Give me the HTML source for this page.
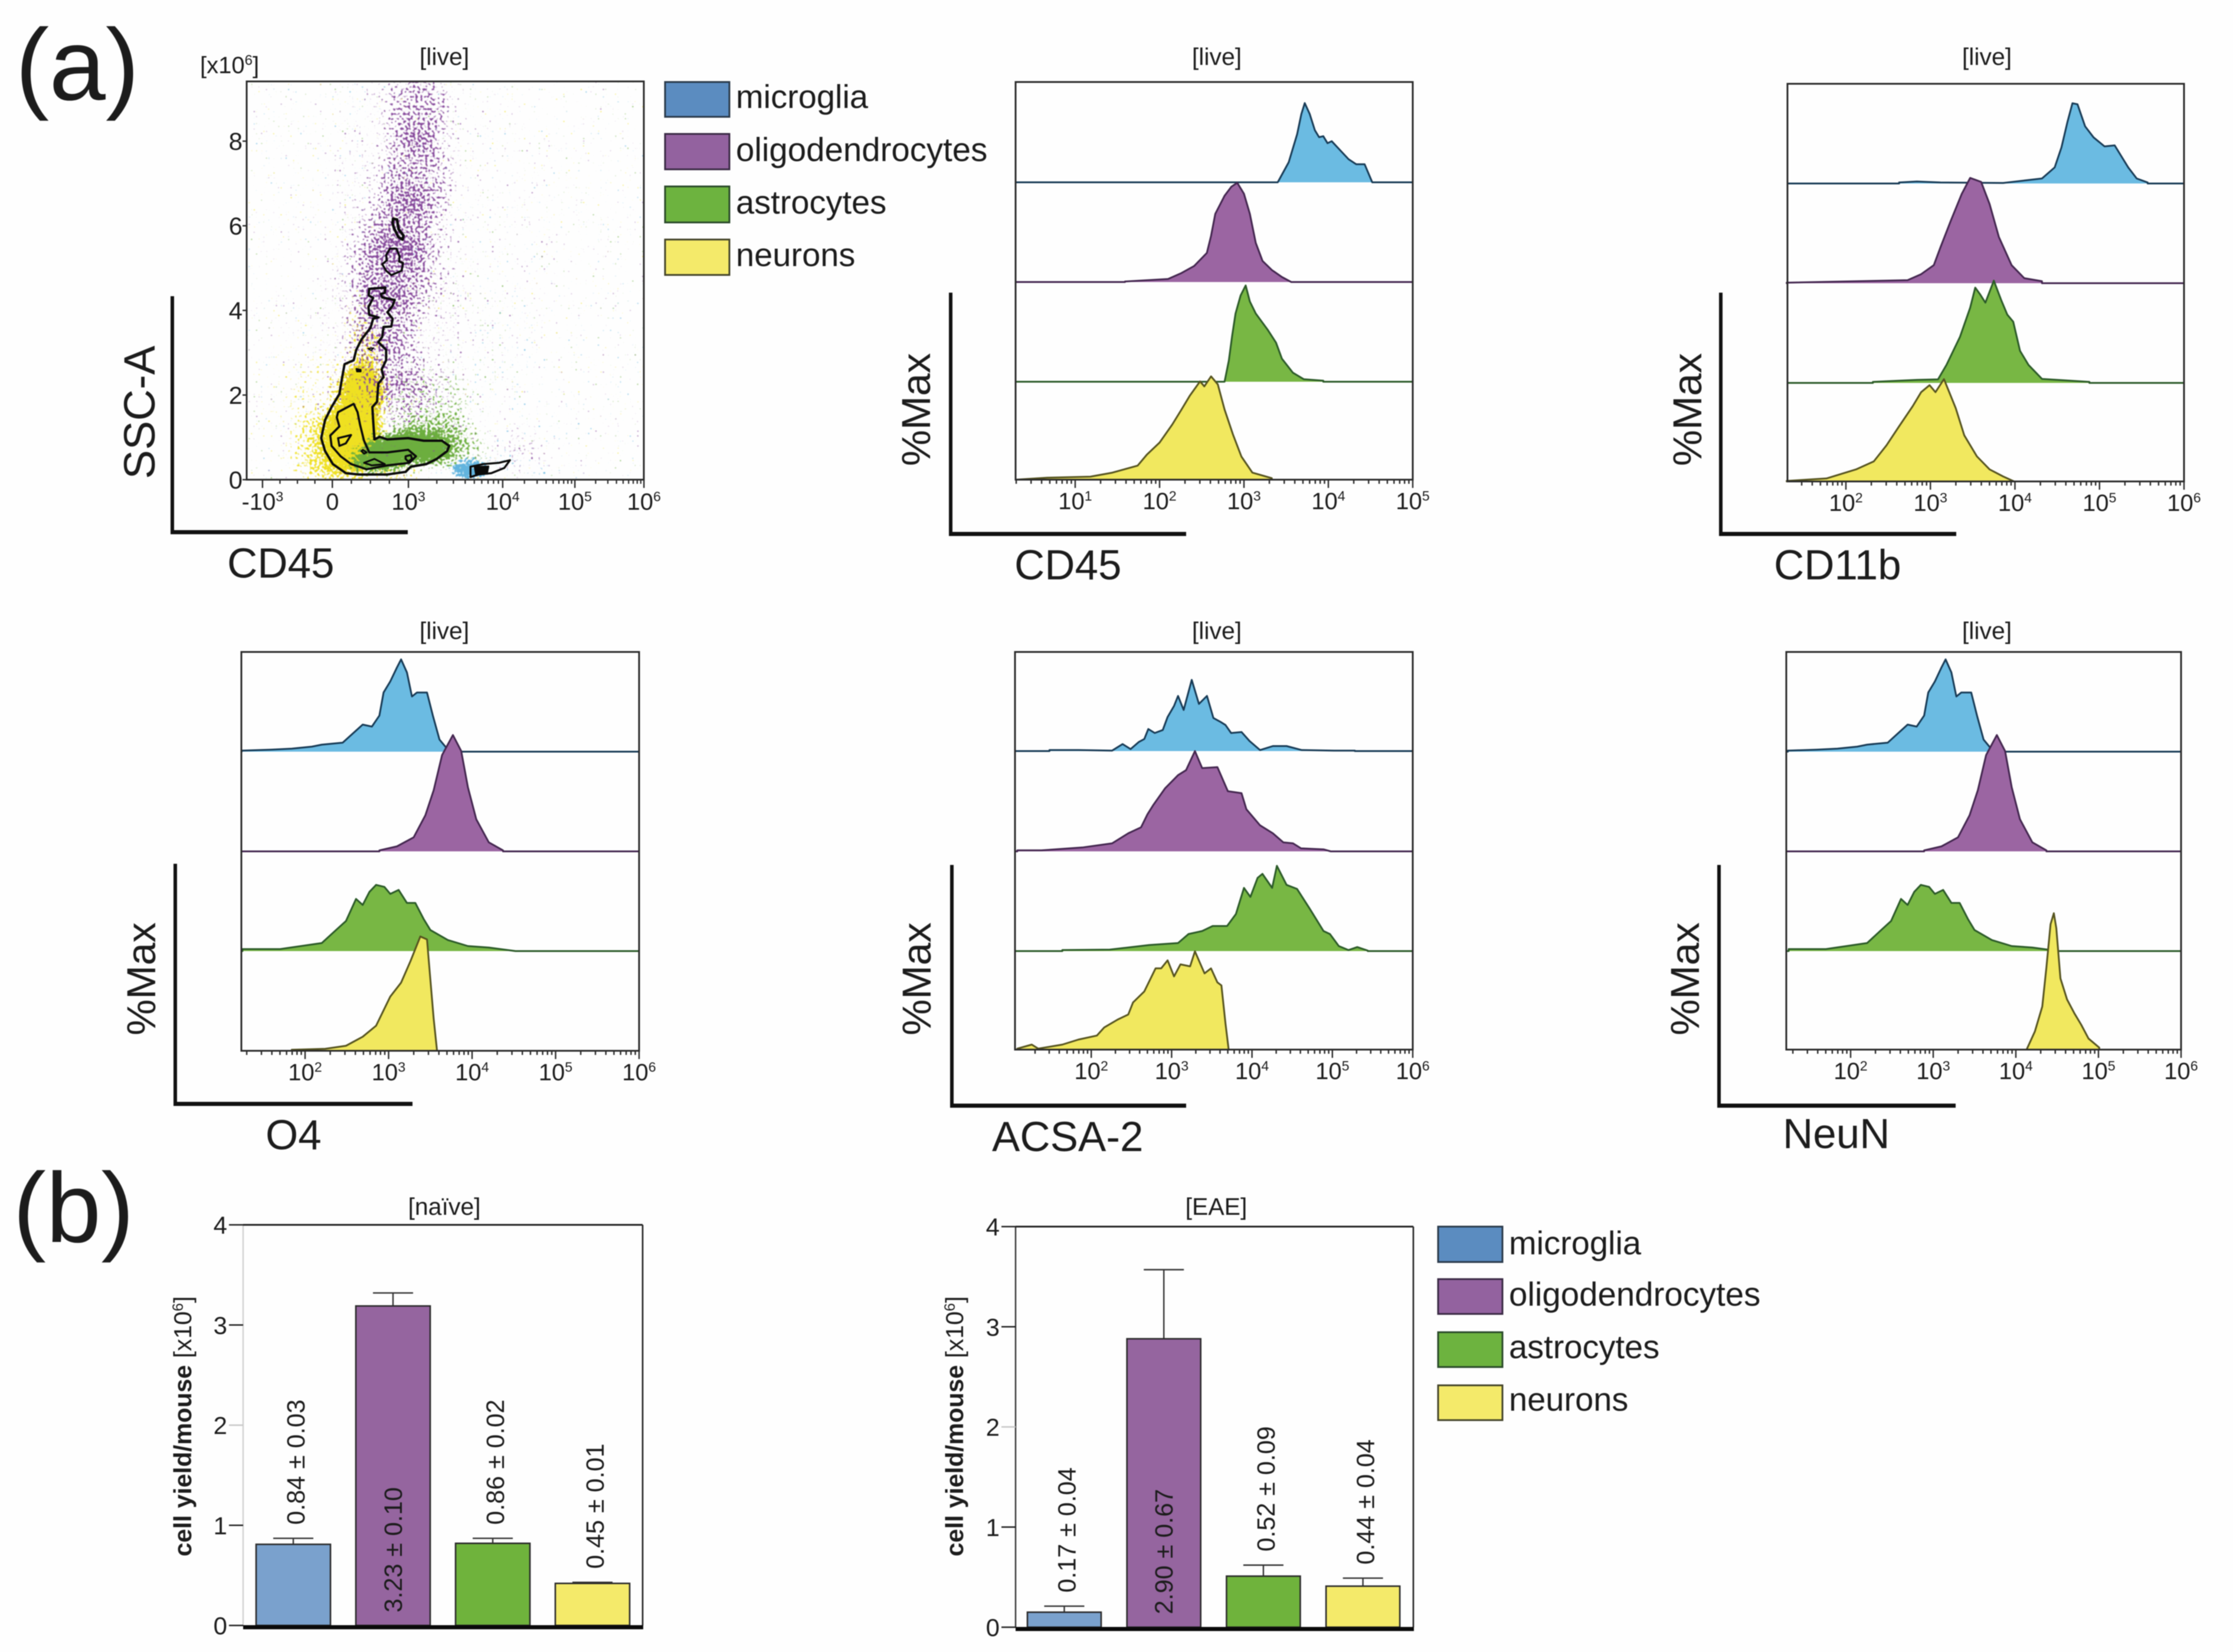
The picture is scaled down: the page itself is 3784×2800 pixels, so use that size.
<!DOCTYPE html>
<html lang="en">
<head>
<meta charset="utf-8">
<title>Cell population flow cytometry figure</title>
<style>
html,body{margin:0;padding:0;background:#fefefe;}
svg{display:block;filter:blur(0.8px);}
text{font-family:"Liberation Sans",sans-serif;fill:#1c1c1c;}
</style>
</head>
<body>
<svg id="figure" xmlns="http://www.w3.org/2000/svg" width="3784" height="2800" viewBox="0 0 3784 2800">
<defs>
<clipPath id="scatterClip"><rect x="418" y="138" width="673" height="675"/></clipPath>
<filter id="stippleYellow" filterUnits="userSpaceOnUse" x="418" y="138" width="673" height="675" color-interpolation-filters="sRGB">
<feGaussianBlur in="SourceAlpha" stdDeviation="14" result="d"/>
<feTurbulence type="fractalNoise" baseFrequency="0.24" numOctaves="1" seed="3" result="t"/>
<feColorMatrix in="t" type="matrix" values="0 0 0 0 0 0 0 0 0 0 0 0 0 0 0 1 0 0 0 0" result="n"/>
<feComposite in="d" in2="n" operator="arithmetic" k1="0" k2="0.8" k3="1" k4="-0.74" result="m"/>
<feComponentTransfer in="m" result="mask"><feFuncA type="linear" slope="9"/></feComponentTransfer>
<feFlood flood-color="#efe021"/><feComposite in2="mask" operator="in"/><feGaussianBlur stdDeviation="0.5"/>
</filter>
<filter id="stippleGreen" filterUnits="userSpaceOnUse" x="418" y="138" width="673" height="675" color-interpolation-filters="sRGB">
<feGaussianBlur in="SourceAlpha" stdDeviation="12" result="d"/>
<feTurbulence type="fractalNoise" baseFrequency="0.24" numOctaves="1" seed="11" result="t"/>
<feColorMatrix in="t" type="matrix" values="0 0 0 0 0 0 0 0 0 0 0 0 0 0 0 1 0 0 0 0" result="n"/>
<feComposite in="d" in2="n" operator="arithmetic" k1="0" k2="0.8" k3="1" k4="-0.74" result="m"/>
<feComponentTransfer in="m" result="mask"><feFuncA type="linear" slope="9"/></feComponentTransfer>
<feFlood flood-color="#6cae3e"/><feComposite in2="mask" operator="in"/><feGaussianBlur stdDeviation="0.5"/>
</filter>
<filter id="stipplePurple" filterUnits="userSpaceOnUse" x="418" y="138" width="673" height="675" color-interpolation-filters="sRGB">
<feGaussianBlur in="SourceAlpha" stdDeviation="16" result="d"/>
<feTurbulence type="fractalNoise" baseFrequency="0.24" numOctaves="1" seed="23" result="t"/>
<feColorMatrix in="t" type="matrix" values="0 0 0 0 0 0 0 0 0 0 0 0 0 0 0 1 0 0 0 0" result="n"/>
<feComposite in="d" in2="n" operator="arithmetic" k1="0" k2="0.8" k3="1" k4="-0.74" result="m"/>
<feComponentTransfer in="m" result="mask"><feFuncA type="linear" slope="9"/></feComponentTransfer>
<feFlood flood-color="#85479a"/><feComposite in2="mask" operator="in"/><feGaussianBlur stdDeviation="0.5"/>
</filter>
<filter id="stippleBlue" filterUnits="userSpaceOnUse" x="418" y="138" width="673" height="675" color-interpolation-filters="sRGB">
<feGaussianBlur in="SourceAlpha" stdDeviation="7" result="d"/>
<feTurbulence type="fractalNoise" baseFrequency="0.24" numOctaves="1" seed="37" result="t"/>
<feColorMatrix in="t" type="matrix" values="0 0 0 0 0 0 0 0 0 0 0 0 0 0 0 1 0 0 0 0" result="n"/>
<feComposite in="d" in2="n" operator="arithmetic" k1="0" k2="0.8" k3="1" k4="-0.74" result="m"/>
<feComponentTransfer in="m" result="mask"><feFuncA type="linear" slope="9"/></feComponentTransfer>
<feFlood flood-color="#62b4de"/><feComposite in2="mask" operator="in"/><feGaussianBlur stdDeviation="0.5"/>
</filter>
</defs>
<rect x="0" y="0" width="3784" height="2800" fill="#fefefe"/>

<text x="26" y="169" font-size="172">(a)</text>
<text x="22" y="2105" font-size="168">(b)</text>

<!-- titles -->
<text x="753" y="110" font-size="41" text-anchor="middle">[live]</text>
<text x="2062" y="110" font-size="41" text-anchor="middle">[live]</text>
<text x="3367" y="110" font-size="41" text-anchor="middle">[live]</text>
<text x="753" y="1083" font-size="41" text-anchor="middle">[live]</text>
<text x="2062" y="1083" font-size="41" text-anchor="middle">[live]</text>
<text x="3367" y="1083" font-size="41" text-anchor="middle">[live]</text>
<text x="753" y="2059" font-size="41" text-anchor="middle">[naïve]</text>
<text x="2061" y="2059" font-size="41" text-anchor="middle">[EAE]</text>
<text x="339" y="124" font-size="40">[x10<tspan font-size="24" dy="-14">6</tspan><tspan dy="14">]</tspan></text>

<!-- axis titles -->
<text transform="translate(262,812) rotate(-90)" font-size="74">SSC-A</text>
<text x="385" y="979" font-size="71">CD45</text>
<text transform="translate(1576,790) rotate(-90)" font-size="69">%Max</text>
<text x="1719" y="982" font-size="71">CD45</text>
<text transform="translate(2883,790) rotate(-90)" font-size="69">%Max</text>
<text x="3006" y="982" font-size="71">CD11b</text>
<text transform="translate(263,1755) rotate(-90)" font-size="69">%Max</text>
<text x="450" y="1948" font-size="71">O4</text>
<text transform="translate(1577,1755) rotate(-90)" font-size="69">%Max</text>
<text x="1681" y="1951" font-size="71">ACSA-2</text>
<text transform="translate(2879,1755) rotate(-90)" font-size="69">%Max</text>
<text x="3021" y="1946" font-size="71">NeuN</text>
<text transform="translate(324,2638) rotate(-90)" font-size="42"><tspan font-weight="bold">cell yield/mouse</tspan> [x10<tspan font-size="25" dy="-14">6</tspan><tspan dy="14">]</tspan></text>
<text transform="translate(1632,2638) rotate(-90)" font-size="42"><tspan font-weight="bold">cell yield/mouse</tspan> [x10<tspan font-size="25" dy="-14">6</tspan><tspan dy="14">]</tspan></text>

<!-- legend a -->
<g>
<rect x="1127" y="139" width="109" height="59" fill="#5b8cc0" stroke="#2a3a4a" stroke-width="3"/>
<text x="1247" y="183" font-size="56">microglia</text>
<rect x="1127" y="227" width="109" height="60" fill="#93629f" stroke="#3a2a44" stroke-width="3"/>
<text x="1247" y="273" font-size="56.4">oligodendrocytes</text>
<rect x="1127" y="316" width="109" height="61" fill="#6db33f" stroke="#2a4a2a" stroke-width="3"/>
<text x="1247" y="362" font-size="56">astrocytes</text>
<rect x="1127" y="406" width="109" height="60" fill="#f4ea6a" stroke="#44442a" stroke-width="3"/>
<text x="1247" y="451" font-size="56">neurons</text>
</g>

<!-- legend b -->
<g>
<rect x="2437" y="2079" width="109" height="60" fill="#5b8cc0" stroke="#2a3a4a" stroke-width="3"/>
<text x="2557" y="2126" font-size="56">microglia</text>
<rect x="2437" y="2168" width="109" height="59" fill="#93629f" stroke="#3a2a44" stroke-width="3"/>
<text x="2557" y="2213" font-size="56.4">oligodendrocytes</text>
<rect x="2437" y="2258" width="109" height="59" fill="#6db33f" stroke="#2a4a2a" stroke-width="3"/>
<text x="2557" y="2302" font-size="56">astrocytes</text>
<rect x="2437" y="2348" width="109" height="59" fill="#f4ea6a" stroke="#44442a" stroke-width="3"/>
<text x="2557" y="2391" font-size="56">neurons</text>
</g>

<g id="marks"></g>
</svg>

<script>
// ---------- Histogram data: [log10 intensity, % of row height] ----------
const cd45Microglia=[[3.40,0],[3.53,20],[3.63,48],[3.68,68],[3.72,79],[3.78,68],[3.84,52],[3.89,45],[3.94,46],[3.99,39],[4.04,41],[4.14,32],[4.24,23],[4.33,18],[4.43,18],[4.52,0]];
const cd45Oligodendrocytes=[[1.59,0.5],[2.10,3],[2.26,9],[2.41,16],[2.56,29],[2.61,46],[2.66,68],[2.77,86],[2.85,95],[2.92,99],[3.00,88],[3.07,68],[3.14,39],[3.22,21],[3.33,12],[3.45,5],[3.56,0]];
const cd45Astrocytes=[[2.77,0],[2.82,21],[2.86,46],[2.90,68],[2.96,86],[3.02,96],[3.07,80],[3.14,68],[3.28,52],[3.38,39],[3.45,23],[3.58,9],[3.71,2.5],[3.94,1]];
const cd45Neurons=[[0.30,0],[0.67,2],[1.18,3],[1.44,7],[1.74,14],[1.85,25],[2.00,37],[2.15,55],[2.26,70],[2.36,84],[2.48,98],[2.53,93],[2.61,103],[2.69,95],[2.77,70],[2.87,45],[2.97,23],[3.10,7],[3.33,1.5]];

const cd11bMicroglia=[[2.63,1],[2.84,2],[3.12,1],[3.86,0.5],[4.32,5],[4.47,16],[4.55,36],[4.62,61],[4.68,80],[4.74,79],[4.83,57],[4.93,46],[5.06,37],[5.18,38],[5.26,27],[5.34,16],[5.44,5],[5.57,1]];
const cd11bOligodendrocytes=[[1.30,0.5],[2.73,3],[2.89,9],[3.04,18],[3.12,36],[3.24,62],[3.37,89],[3.47,105],[3.60,101],[3.70,79],[3.81,46],[3.96,18],[4.11,5],[4.32,2]];
const cd11bAstrocytes=[[2.32,1],[2.84,3],[3.09,3.5],[3.19,18],[3.35,46],[3.47,75],[3.53,95],[3.59,88],[3.65,80],[3.75,102],[3.84,82],[3.91,68],[3.98,61],[4.06,32],[4.16,18],[4.32,4],[4.88,1]];
const cd11bNeurons=[[1.30,0.5],[1.77,3],[2.12,12],[2.33,20],[2.48,36],[2.63,55],[2.79,75],[2.89,89],[2.99,96],[3.06,89],[3.16,102],[3.30,73],[3.40,46],[3.55,25],[3.70,12],[3.86,5],[3.99,0]];

const o4Microglia=[[1.24,1],[1.59,2],[1.84,3],[2.08,5],[2.20,7],[2.45,9],[2.57,18],[2.69,27],[2.80,25],[2.89,36],[2.94,59],[3.02,70],[3.10,84],[3.15,92],[3.22,79],[3.28,55],[3.34,59],[3.46,59],[3.53,36],[3.61,12],[3.71,2]];
const o4Oligodendrocytes=[[2.89,1],[3.10,5],[3.30,14],[3.44,36],[3.54,61],[3.64,96],[3.77,116],[3.87,100],[3.95,64],[4.05,32],[4.20,9],[4.37,1]];
const o4Astrocytes=[[1.25,2],[1.70,2],[2.20,8],[2.37,21],[2.49,30],[2.61,52],[2.69,46],[2.77,59],[2.85,66],[2.95,64],[3.02,57],[3.12,61],[3.22,48],[3.32,48],[3.42,32],[3.50,21],[3.71,11],[3.95,5],[4.20,3.5],[4.52,0]];
const o4Neurons=[[1.84,1],[2.24,2],[2.49,5],[2.69,14],[2.85,25],[3.02,54],[3.15,68],[3.26,89],[3.38,114],[3.46,111],[3.50,71],[3.54,32],[3.58,0]];

const acsaMicroglia=[[1.48,1],[1.84,1],[2.26,0.5],[2.39,7],[2.49,2],[2.59,9],[2.66,12],[2.71,22],[2.79,18],[2.89,21],[2.95,34],[3.03,45],[3.08,55],[3.15,41],[3.25,71],[3.34,47],[3.44,55],[3.52,33],[3.61,29],[3.67,26],[3.74,18],[3.87,19],[3.97,10],[4.10,1],[4.26,5],[4.43,5],[4.62,1],[5.02,0.5],[5.28,0.5]];
const acsaOligodendrocytes=[[1.08,1],[1.38,1],[1.90,4],[2.26,8],[2.46,18],[2.62,24],[2.70,37],[2.77,46],[2.92,63],[3.08,76],[3.18,81],[3.29,100],[3.38,83],[3.57,84],[3.70,60],[3.87,58],[3.93,42],[4.10,26],[4.26,18],[4.39,9],[4.51,8],[4.61,3],[4.89,2],[4.98,0]];
const acsaAstrocytes=[[1.64,1],[2.23,1.5],[2.72,6],[3.08,8],[3.21,17],[3.38,20],[3.51,25],[3.69,25],[3.80,37],[3.90,63],[3.98,54],[4.07,73],[4.13,77],[4.25,63],[4.31,85],[4.43,66],[4.56,62],[4.72,42],[4.89,20],[4.97,17],[5.08,5],[5.20,1],[5.31,4],[5.44,0.5]];
const acsaNeurons=[[1.08,1],[1.26,5],[1.34,1],[1.64,5],[1.84,10],[2.07,14],[2.16,22],[2.33,30],[2.46,35],[2.52,47],[2.66,58],[2.80,81],[2.87,81],[2.95,89],[3.03,73],[3.11,85],[3.23,83],[3.29,98],[3.41,76],[3.49,81],[3.57,67],[3.62,64],[3.67,26],[3.71,0]];

const neunMicroglia=[[1.24,1],[1.59,2],[1.84,3],[2.08,5],[2.20,7],[2.45,9],[2.57,18],[2.69,27],[2.80,25],[2.89,36],[2.94,59],[3.02,70],[3.10,84],[3.15,92],[3.22,79],[3.28,55],[3.34,59],[3.46,59],[3.53,36],[3.61,12],[3.71,2]];
const neunOligodendrocytes=[[2.89,1],[3.10,5],[3.30,14],[3.44,36],[3.54,61],[3.64,96],[3.77,116],[3.87,100],[3.95,64],[4.05,32],[4.20,9],[4.37,1]];
const neunAstrocytes=[[1.25,2],[1.70,2],[2.20,8],[2.37,21],[2.49,30],[2.61,52],[2.69,46],[2.77,59],[2.85,66],[2.95,64],[3.02,57],[3.12,61],[3.22,48],[3.32,48],[3.42,32],[3.50,21],[3.71,11],[3.95,5],[4.20,3.5],[4.52,0]];
const neunNeurons=[[4.13,0],[4.23,18],[4.32,43],[4.37,82],[4.42,125],[4.46,136],[4.49,121],[4.54,71],[4.62,50],[4.71,36],[4.79,25],[4.88,11],[5.01,2]];

// ---------- Scatter data (display channels) ----------
const xTickValues=["-10|3","0","10|3","10|4","10|5","10|6"];
const xTickChannels=[61,330,623,986,1264,1530];
const sscTicks=[0,2,4,6,8];
const sscChannelsPerUnit=163;
// density clusters: [x channel, y channel, x spread, y spread, density]
const yellowClusters=[[410,170,100,110,1],[445,330,75,110,.95],[470,500,55,90,.3],[330,130,150,130,.22],[330,280,170,180,.11],[480,40,200,50,.25],[300,50,120,60,.15],[440,620,70,110,.12],[220,300,170,320,.04]];
const greenClusters=[[620,120,170,50,.9],[500,70,110,35,.8],[720,160,160,100,.22],[690,290,170,130,.14],[800,550,250,300,.03],[820,110,120,90,.15]];
const purpleClusters=[[660,1440,120,170,.2],[650,1180,130,170,.2],[600,980,140,150,.2],[560,800,150,140,.19],[520,620,140,130,.17],[530,450,150,110,.15],[600,320,130,100,.12],[580,1100,270,520,.06],[560,600,300,380,.07],[560,250,340,180,.05],[800,900,400,700,.02],[1050,120,110,80,.12]];
const blueClusters=[[860,40,70,35,.7],[1000,70,70,45,.12],[1130,40,50,35,.1],[1000,450,130,350,.03],[1190,200,100,100,.03]];
// contour lines in display channels
const contourMain=[[472,735],[534,740],[532,720],[517,715],[522,702],[570,692],[562,670],[542,645],[562,620],[557,590],[527,588],[522,550],[507,530],[537,500],[537,460],[520,425],[527,395],[507,370],[502,300],[484,280],[487,230],[492,155],[512,165],[542,155],[622,160],[682,150],[752,150],[780,130],[772,110],[732,80],[692,60],[632,50],[612,30],[542,20],[432,20],[382,25],[332,60],[302,110],[287,160],[302,230],[327,280],[357,330],[367,390],[377,445],[412,460],[422,500],[442,540],[477,585],[487,620],[507,625],[472,635],[469,665],[487,700],[470,710]];
const contourInner=[[352,260],[412,292],[427,260],[437,210],[452,150],[472,105],[542,105],[622,115],[652,90],[627,65],[542,55],[462,40],[402,60],[362,90],[327,130],[322,170],[357,205],[347,240]];
const contourNeuronCore=[[352,160],[402,172],[382,140],[357,130]];
const contourAstroCore=[[612,90],[632,95],[637,80],[622,70],[612,80]];
const contourLowerCore=[[452,65],[492,80],[532,60],[482,55]];
const contourSmall=[[447,115],[462,105],[452,100],[442,110]];
const contourTowerMark=[[467,505],[479,498],[489,507]];
const contourTop1=[[564,1005],[579,1002],[585,965],[604,940],[600,925],[584,935],[567,970],[562,990]];
const contourTop2=[[537,865],[552,890],[577,890],[589,860],[587,840],[602,835],[597,805],[557,788],[537,805],[522,830],[540,845]];
const contourMicroglia=[[862,50],[912,60],[972,65],[1014,75],[992,45],[942,25],[892,20],[862,10]];
const contourMicrogliaBlob=[[877,50],[932,52],[927,25],[882,20]];
const contourBlackBlob=[[422,428],[440,424],[440,416],[424,416]];

// ---------- Bar data ----------
const barCategories=["microglia","oligodendrocytes","astrocytes","neurons"];
const naiveValues=[0.81,3.19,0.82,0.42];
const naiveErrors=[0.06,0.13,0.05,0.01];
const naiveLabels=["0.84 ± 0.03","3.23 ± 0.10","0.86 ± 0.02","0.45 ± 0.01"];
const eaeValues=[0.15,2.88,0.51,0.41];
const eaeErrors=[0.06,0.69,0.11,0.08];
const eaeLabels=["0.17 ± 0.04","2.90 ± 0.67","0.52 ± 0.09","0.44 ± 0.04"];
const barTicks=[0,1,2,3,4];

// ---------- Helpers ----------
const NS="http://www.w3.org/2000/svg";
const marks=document.getElementById("marks");
function mk(tag,attrs,parent){
  const e=document.createElementNS(NS,tag);
  for(const k in attrs){e.setAttribute(k,attrs[k]);}
  (parent||marks).appendChild(e);
  return e;
}
const histFill=["#6bbbe2","#9b65a2","#78b744","#f1e85f"];
const histLine=["#173a55","#43264f","#2b5a28","#55531f"];
const popNames=["microglia","oligodendrocytes","astrocytes","neurons"];

function axisL(name,x,yTop,yBottom,xRight){
  const v=mk("line",{x1:x,y1:yTop,x2:x,y2:yBottom+3,stroke:"#111","stroke-width":6});
  
  
  const h=mk("line",{x1:x-3,y1:yBottom,x2:xRight,y2:yBottom,stroke:"#111","stroke-width":7});
  
  
}
function powerLabel(name,x,y,base,exp,size){
  const t=mk("text",{x:x,y:y,"font-size":size,"text-anchor":"middle"});
  
  
  t.textContent=base;
  if(exp){
    const s=mk("tspan",{"font-size":size*0.58,dy:-size*0.36},t);
    s.textContent=exp;
  }
  return t;
}

// ---------- Histogram panels ----------
function histPanel(p){
  const xScale=L=>p.right-(p.logMax-L)*p.decade;
  const yScale=(row,pct)=>p.bases[row]-pct*1.7;
  const g=mk("g",{});
  
  
  p.series.forEach((s,i)=>{
    const pts=s.map(d=>xScale(d[0]).toFixed(1)+","+yScale(i,d[1]).toFixed(1));
    const first=xScale(s[0][0]).toFixed(1), last=xScale(s[s.length-1][0]).toFixed(1);
    const area=mk("path",{d:"M"+first+","+p.bases[i]+" L"+pts.join(" L")+" L"+last+","+p.bases[i]+" Z",fill:histFill[i],stroke:"none"},g);
    
    
    const line=mk("path",{d:"M"+p.left+","+p.bases[i]+" L"+first+","+p.bases[i]+" L"+pts.join(" L")+" L"+last+","+p.bases[i]+" L"+p.right+","+p.bases[i],fill:"none",stroke:histLine[i],"stroke-width":3,"stroke-linejoin":"round"},g);
    
    
  });
  const f=mk("rect",{x:p.left,y:p.top,width:p.right-p.left,height:p.bases[3]-p.top,fill:"none",stroke:"#2a2a2a","stroke-width":3},g);
  
  
  const bottom=p.bases[3];
  for(let d=Math.floor(p.logMin);d<p.logMax;d++){
    for(let k=1;k<10;k++){
      const L=d+Math.log10(k);
      if(L<p.logMin) continue;
      const t=mk("line",{x1:xScale(L),y1:bottom,x2:xScale(L),y2:bottom+(k===1?14:7),stroke:"#2a2a2a","stroke-width":2.4},g);
      
      
    }
  }
  const endTick=mk("line",{x1:p.right,y1:bottom,x2:p.right,y2:bottom+14,stroke:"#2a2a2a","stroke-width":2.4},g);
  
  
  p.ticks.forEach(v=>{
    powerLabel(p.name+"-tick-label",xScale(v),bottom+50,"10",String(v),40);
  });
}
const cd45LogTicks=[1,2,3,4,5];
const fullLogTicks=[2,3,4,5,6];
histPanel({name:"cd45",left:1721,right:2394,top:139,bases:[309,478,647,813],logMax:5,logMin:0.29,decade:143,ticks:cd45LogTicks,series:[cd45Microglia,cd45Oligodendrocytes,cd45Astrocytes,cd45Neurons]});
histPanel({name:"cd11b",left:3029,right:3701,top:142,bases:[311,480,649,816],logMax:6,logMin:1.31,decade:143.25,ticks:fullLogTicks,series:[cd11bMicroglia,cd11bOligodendrocytes,cd11bAstrocytes,cd11bNeurons]});
histPanel({name:"o4",left:409,right:1083,top:1105,bases:[1274,1443,1612,1781],logMax:6,logMin:1.24,decade:141.5,ticks:fullLogTicks,series:[o4Microglia,o4Oligodendrocytes,o4Astrocytes,o4Neurons]});
histPanel({name:"acsa2",left:1720,right:2394,top:1105,bases:[1273,1443,1612,1779],logMax:6,logMin:1.05,decade:136.2,ticks:fullLogTicks,series:[acsaMicroglia,acsaOligodendrocytes,acsaAstrocytes,acsaNeurons]});
histPanel({name:"neun",left:3027,right:3696,top:1105,bases:[1274,1443,1612,1779],logMax:6,logMin:1.22,decade:140,ticks:fullLogTicks,series:[neunMicroglia,neunOligodendrocytes,neunAstrocytes,neunNeurons]});

axisL("scatter",292,502,902,691);
axisL("cd45",1611,496,905,2010);
axisL("cd11b",2916,496,905,3315);
axisL("o4",297,1464,1871,699);
axisL("acsa2",1613,1466,1874,2010);
axisL("neun",2913,1466,1874,3314);

// ---------- Scatter ----------
const chanX=c=>418+c*0.44;
const chanY=c=>813-c*0.44;
const sscY=v=>chanY(v*sscChannelsPerUnit);
function density(name,clusters,filter){
  const wrap=mk("g",{"clip-path":"url(#scatterClip)"});
  
  
  const g=mk("g",{filter:"url(#"+filter+")"},wrap);
  clusters.forEach(c=>{
    const e=mk("ellipse",{cx:chanX(c[0]),cy:chanY(c[1]),rx:c[2]*0.44,ry:c[3]*0.44,fill:"#000","fill-opacity":c[4]},g);
    
    
  });
}
density("neurons",yellowClusters,"stippleYellow");
density("astrocytes",greenClusters,"stippleGreen");
density("oligodendrocytes",purpleClusters,"stipplePurple");
density("microglia",blueClusters,"stippleBlue");

function contour(name,pts,filled,width){
  const d="M"+pts.map(p=>chanX(p[0]).toFixed(1)+","+chanY(p[1]).toFixed(1)).join(" L")+" Z";
  const c=mk("path",{d:d,fill:filled?"#0a0a0a":"none",stroke:"#0a0a0a","stroke-width":width,"stroke-linejoin":"round"});
  
  
}
contour("contour-main",contourMain,false,4);
contour("contour-inner",contourInner,false,3.6);
contour("contour-neuron-core",contourNeuronCore,false,3.4);
contour("contour-astrocyte-core",contourAstroCore,false,3.4);
contour("contour-lower-core",contourLowerCore,false,3);
contour("contour-small",contourSmall,false,3);
contour("contour-tower-mark",contourTowerMark,false,2);
contour("contour-top-upper",contourTop1,false,4.5);
contour("contour-top-lower",contourTop2,false,3.4);
contour("contour-microglia",contourMicroglia,false,3.4);
contour("contour-microglia-core",contourMicrogliaBlob,true,2);
contour("contour-blob",contourBlackBlob,true,2);

const sf=mk("rect",{x:418,y:138,width:673,height:675,fill:"none",stroke:"#2a2a2a","stroke-width":3});


sscTicks.forEach(v=>{
  const t=mk("line",{x1:411,y1:sscY(v),x2:418,y2:sscY(v),stroke:"#2a2a2a","stroke-width":2.4});
  
  
  const l=mk("text",{x:411,y:sscY(v)+15,"font-size":42,"text-anchor":"end"});
  
  
  l.textContent=v;
});
xTickChannels.forEach((c,i)=>{
  const t=mk("line",{x1:chanX(c),y1:813,x2:chanX(c),y2:827,stroke:"#2a2a2a","stroke-width":2.4});
  
  
  const parts=xTickValues[i].split("|");
  powerLabel("scatter-x-tick-label",chanX(c),864,parts[0],parts[1]||"",40);
  if(i>=2 && i<xTickChannels.length-1){
    for(let k=2;k<10;k++){
      const cc=c+(xTickChannels[i+1]-c)*Math.log10(k);
      const m=mk("line",{x1:chanX(cc),y1:813,x2:chanX(cc),y2:820,stroke:"#2a2a2a","stroke-width":2.2});
      
      
    }
  } else if(i<2){
    for(let k=1;k<4;k++){
      const cc=c+(xTickChannels[i+1]-c)*k/4;
      const m=mk("line",{x1:chanX(cc),y1:813,x2:chanX(cc),y2:820,stroke:"#2a2a2a","stroke-width":2.2});
      
      
    }
  }
});

// ---------- Bars ----------
const barFill=["#7aa1cd","#95659f","#6fb33c","#f4ea6a"];
function barPanel(p){
  const y=v=>p.y0-v*p.unit;
  const g=mk("g",{});
  
  
  const left=mk("line",{x1:p.left,y1:y(4),x2:p.left,y2:y(0),stroke:p.leftColor,"stroke-width":2.4},g);
  
  
  const top=mk("line",{x1:p.left,y1:y(4),x2:p.right,y2:y(4),stroke:"#222","stroke-width":3},g);
  
  
  const right=mk("line",{x1:p.right,y1:y(4),x2:p.right,y2:y(0),stroke:"#222","stroke-width":2.6},g);
  
  
  barTicks.forEach(v=>{
    const t=mk("line",{x1:p.left-24,y1:y(v),x2:p.left,y2:y(v),stroke:v===2?"#c8c8c8":"#222","stroke-width":2.6},g);
    
    
    const l=mk("text",{x:p.left-27,y:y(v)+15,"font-size":42,"text-anchor":"end"},g);
    
    
    l.textContent=v;
  });
  p.values.forEach((v,i)=>{
    const bx=p.first+i*p.pitch, cx=bx+p.width/2;
    const capTop=y(v+p.errors[i]);
    const stem=mk("line",{x1:cx,y1:y(v),x2:cx,y2:capTop,stroke:"#333","stroke-width":2.4},g);
    
    
    const cap=mk("line",{x1:cx-34,y1:capTop,x2:cx+34,y2:capTop,stroke:"#333","stroke-width":2.4},g);
    
    
    const b=mk("rect",{x:bx,y:y(v),width:p.width,height:y(0)-y(v),fill:barFill[i],stroke:"#2a2a2a","stroke-width":2.6},g);
    
    
    const inside=v>2;
    const ty=inside?y(0)-22:capTop-23;
    const l=mk("text",{transform:"translate("+(cx+(inside?15:19))+","+ty+") rotate(-90)","font-size":42.5},g);
    
    
    l.textContent=p.labels[i];
  });
  const base=mk("line",{x1:p.left,y1:y(0)+3,x2:p.right+1,y2:y(0)+3,stroke:"#0a0a0a","stroke-width":7},g);
  
  
}
barPanel({name:"naive",left:412,right:1089,y0:2755,unit:169.75,first:434,pitch:169,width:126,values:naiveValues,errors:naiveErrors,labels:naiveLabels,leftColor:"#d0d0d0"});
barPanel({name:"eae",left:1721,right:2395,y0:2758,unit:169.75,first:1741,pitch:168.7,width:125,values:eaeValues,errors:eaeErrors,labels:eaeLabels,leftColor:"#333"});
</script>
</body>
</html>
